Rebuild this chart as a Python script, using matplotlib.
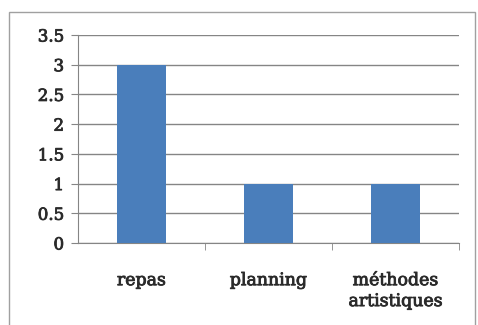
import matplotlib.pyplot as plt
import matplotlib.patheffects as pe
from matplotlib.patches import Rectangle

categories = ['repas', 'planning', 'méthodes\nartistiques']
values = [3, 1, 1]
yticks = [0, 0.5, 1, 1.5, 2, 2.5, 3, 3.5]
ytick_labels = ['0', '0.5', '1', '1.5', '2', '2.5', '3', '3.5']

W, H = 478, 325
fig = plt.figure(figsize=(W / 100, H / 100), dpi=100)
fig.patch.set_facecolor('white')

# outer chart border
fig.patches.append(Rectangle((9 / W, -0.05), (475 - 9) / W, 1.05 - 12 / H,
                             transform=fig.transFigure, fill=False,
                             edgecolor='#a0a0a0', linewidth=1.0))

ax = fig.add_axes([78 / W, 1 - 243 / H, (459 - 78) / W, (243 - 35) / H])
x = list(range(len(categories)))
ax.bar(x, values, width=0.39, color='#4a7ebb', zorder=3)
ax.set_xlim(-0.5, len(categories) - 0.5)
ax.set_ylim(0, 3.5)
ax.set_yticks(yticks)
ax.set_yticklabels(ytick_labels)
ax.grid(axis='y', color='#858585', linewidth=1.0, zorder=0)

for s in ['top', 'right']:
    ax.spines[s].set_visible(False)
ax.spines['left'].set_color('#858585')
ax.spines['bottom'].set_color('#858585')

ax.set_xticks([0.5, 1.5, 2.5], minor=True)
ax.set_xticks(x)
ax.set_xticklabels(categories, linespacing=1.3)
ax.tick_params(axis='x', which='major', length=0, pad=21)
ax.tick_params(axis='x', which='minor', length=5, color='#858585')
ax.tick_params(axis='y', length=5, color='#858585', pad=5)

# slightly heavier strokes, like the scanned labels
heavy = [pe.withStroke(linewidth=0.6, foreground='#2a2a2a')]
for lab in ax.get_xticklabels():
    lab.set_family('DejaVu Serif')
    lab.set_fontsize(12.5)
    lab.set_color('#2a2a2a')
    lab.set_path_effects(heavy)
for lab in ax.get_yticklabels():
    lab.set_family('DejaVu Serif')
    lab.set_fontsize(12)
    lab.set_color('#2a2a2a')
    lab.set_path_effects(heavy)

fig.savefig('out.png', dpi=100)
